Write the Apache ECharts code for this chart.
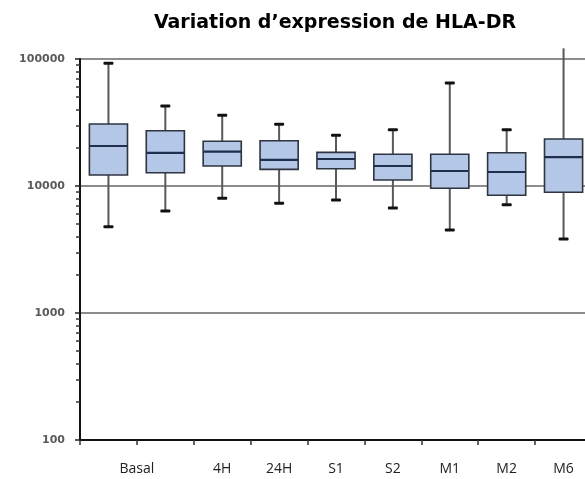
<!DOCTYPE html>
<html>
<head>
<meta charset="utf-8">
<script src="https://cdn.jsdelivr.net/npm/echarts@6/dist/echarts.min.js"></script>
<style>
  html, body { margin: 0; padding: 0; background: #ffffff; }
  #chart { width: 585px; height: 479px; }
</style>
</head>
<body>
<div id="chart"></div>
<script>
// Time points (the first two boxes share the "Basal" label)
const categories = ['Basal', '', '4H', '24H', 'S1', 'S2', 'M1', 'M2', 'M6'];

// Box statistics per time point
const whiskerLow  = [4780, 6360, 8000, 7310, 7760, 6710, 4500, 7130, 3830];
const quartileLow = [12200, 12730, 14370, 13530, 13690, 11150, 9590, 8450, 8920];
const medians     = [20650, 18200, 18620, 16030, 16320, 14370, 13130, 12890, 16910];
const quartileHigh= [30800, 27250, 22500, 22740, 18410, 17780, 17780, 18290, 23450];
const whiskerHigh = [92500, 42650, 36050, 30600, 25070, 27750, 64740, 27750, 121400];

// Axis ticks
const yMajorTicks = [100, 1000, 10000, 100000];
const yMinorTicks = [200, 300, 400, 500, 600, 700, 800, 900,
                     2000, 3000, 4000, 5000, 6000, 7000, 8000, 9000,
                     20000, 30000, 40000, 50000, 60000, 70000, 80000, 90000];
const yMin = 100;
const yMax = 100000;

const boxData = categories.map((c, i) =>
  [i, whiskerLow[i], quartileLow[i], medians[i], quartileHigh[i], whiskerHigh[i]]);

// The plot runs a little past the right edge of the canvas
const GRID_LEFT = 80;
const PLOT_WIDTH = 512;

const chart = echarts.init(document.getElementById('chart'), null, { renderer: 'canvas' });

function renderBox(params, api) {
  const x = api.value(0);
  const pLow = api.coord([x, api.value(1)]);
  const pQ1 = api.coord([x, api.value(2)]);
  const pMed = api.coord([x, api.value(3)]);
  const pQ3 = api.coord([x, api.value(4)]);
  const pHigh = api.coord([x, api.value(5)]);
  const band = api.size([1, 0])[0];
  const w = band * 0.67;
  const cx = pMed[0];
  const capW = 10, capH = 3;
  const children = [
    { type: 'line', shape: { x1: cx, y1: pHigh[1], x2: cx, y2: pLow[1] },
      style: { stroke: '#555a60', lineWidth: 2 } },
    { type: 'rect', shape: { x: cx - capW / 2, y: pLow[1] - capH / 2, width: capW, height: capH, r: 1 },
      style: { fill: '#111111' } },
    { type: 'rect', shape: { x: cx - w / 2, y: pQ3[1], width: w, height: pQ1[1] - pQ3[1] },
      style: { fill: '#b4c7e7', stroke: '#2e3540', lineWidth: 1.6 } },
    { type: 'line', shape: { x1: cx - w / 2, y1: pMed[1], x2: cx + w / 2, y2: pMed[1] },
      style: { stroke: '#1f2f4d', lineWidth: 2.2 } }
  ];
  // the upper cap is only drawn when the whisker ends inside the plot
  if (api.value(5) <= yMax) {
    children.splice(1, 0, { type: 'rect',
      shape: { x: cx - capW / 2, y: pHigh[1] - capH / 2, width: capW, height: capH, r: 1 },
      style: { fill: '#111111' } });
  }
  return { type: 'group', children: children };
}

chart.setOption({
  animation: false,
  backgroundColor: '#ffffff',
  title: {
    text: 'Variation d\u2019expression de HLA-DR',
    left: 330,
    top: 9,
    textAlign: 'center',
    textStyle: { fontFamily: 'DejaVu Sans, sans-serif', fontSize: 19, fontWeight: 'bold', color: '#000000' }
  },
  grid: { left: GRID_LEFT, width: PLOT_WIDTH, top: 59, bottom: 39, containLabel: false, outerBoundsMode: 'none' },
  xAxis: {
    type: 'category',
    data: categories.map((c, i) => i === 0
      ? { value: c, textStyle: { padding: [0, 0, 0, 57] } }
      : c),
    boundaryGap: true,
    axisLine: { show: true, lineStyle: { color: '#111111', width: 2 } },
    axisTick: { show: true, alignWithLabel: false, length: 5, lineStyle: { color: '#333333', width: 1.5 } },
    axisLabel: { margin: 22, fontFamily: 'Open Sans, sans-serif', fontSize: 14, color: '#222222', interval: 0 },
    splitLine: { show: false }
  },
  yAxis: [
    {
      type: 'log',
      logBase: 10,
      min: yMin,
      max: yMax,
      axisLine: { show: true, onZero: false, lineStyle: { color: '#111111', width: 2 } },
      axisTick: { show: true, customValues: yMajorTicks, length: 5, lineStyle: { color: '#222222', width: 1.5 } },
      axisLabel: { customValues: yMajorTicks, margin: 15, fontFamily: 'DejaVu Sans, sans-serif', fontSize: 11,
                   fontWeight: 'bold', color: '#5a5a5a', formatter: v => String(Math.round(v)) },
      splitLine: { show: true, lineStyle: { color: '#666666', width: 1.5 } }
    },
    {
      // minor (2..9 x 10^k) ticks, placed back onto the left edge of the plot
      type: 'log',
      logBase: 10,
      min: yMin,
      max: yMax,
      position: 'right',
      offset: -PLOT_WIDTH,
      axisLine: { show: false },
      axisTick: { show: true, inside: true, customValues: yMinorTicks, length: 4,
                  lineStyle: { color: '#333333', width: 1.5 } },
      axisLabel: { show: false },
      splitLine: { show: false }
    }
  ],
  series: [{
    type: 'custom',
    xAxisIndex: 0,
    yAxisIndex: 0,
    renderItem: renderBox,
    encode: { x: 0, y: [1, 2, 3, 4, 5] },
    data: boxData,
    z: 5
  }]
});
</script>
</body>
</html>
